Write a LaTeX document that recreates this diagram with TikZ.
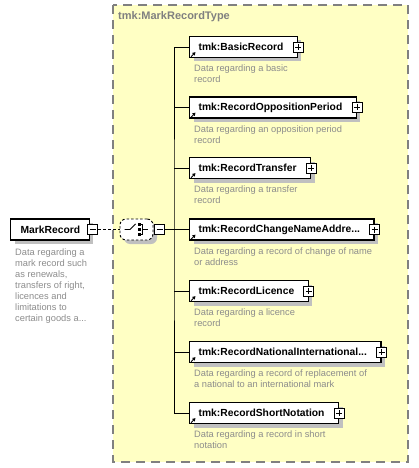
\documentclass[tikz,border=0pt]{standalone}
\usepackage{fontspec}
\setmainfont{Liberation Sans}
\usetikzlibrary{arrows.meta, positioning, shadows}
\definecolor{typefill}{HTML}{FFFFC4}
\definecolor{typeline}{HTML}{808080}
\definecolor{desctext}{HTML}{8C8C8C}
\definecolor{shadowgray}{HTML}{C0C0C0}
\tikzset{
    typebox/.style={
        draw=typeline,
        fill=typefill,
        line width=1.3pt,
        dash pattern=on 9pt off 6pt
    },
    typetitle/.style={
        text=typeline,
        font=\fontsize{11}{12}\selectfont\bfseries,
        inner sep=0pt
    },
    element/.style={
        rectangle,
        draw=black,
        fill=white,
        line width=1.3pt,
        minimum height=21pt,
        inner xsep=0pt,
        inner ysep=0pt,
        font=\fontsize{10.3}{12}\selectfont\bfseries,
        drop shadow={shadow xshift=4pt, shadow yshift=-4pt, fill=shadowgray, opacity=1}
    },
    childelement/.style={
        element,
        execute at begin node=\hspace*{9pt},
        execute at end node=\hspace*{14pt}
    },
    topelement/.style={
        element,
        execute at begin node=\hspace*{10pt},
        execute at end node=\hspace*{9pt}
    },
    desc/.style={
        text=desctext,
        font=\fontsize{9.3}{11}\selectfont,
        align=left,
        inner sep=0pt
    },
    compositor/.style={
        rectangle,
        rounded corners=6pt,
        draw=black,
        fill=white,
        dash pattern=on 2.5pt off 2pt,
        line width=0.9pt,
        minimum width=33pt,
        minimum height=21pt,
        inner sep=0pt,
        drop shadow={shadow xshift=4pt, shadow yshift=-4pt, fill=shadowgray, opacity=1}
    },
    plusicon/.style={
        rectangle,
        draw=black,
        fill=white,
        line width=0.8pt,
        minimum size=10pt,
        inner sep=0pt,
        path picture={
            \draw[line width=0.8pt] ([xshift=2pt]path picture bounding box.west) -- ([xshift=-2pt]path picture bounding box.east);
            \draw[line width=0.8pt] ([yshift=-2pt]path picture bounding box.north) -- ([yshift=2pt]path picture bounding box.south);
        }
    },
    minusicon/.style={
        rectangle,
        draw=black,
        fill=white,
        line width=0.8pt,
        minimum size=10pt,
        inner sep=0pt,
        path picture={
            \draw[line width=0.8pt] ([xshift=2pt]path picture bounding box.west) -- ([xshift=-2pt]path picture bounding box.east);
        }
    },
    link/.style={
        line width=0.9pt
    },
    optional/.style={
        line width=0.9pt,
        dash pattern=on 3pt off 2pt
    },
    refarrow/.style={
        line width=0.9pt,
        -{Triangle[length=3pt,width=3.5pt]}
    }
}

\begin{document}
\begin{tikzpicture}[x=1pt, y=-1pt]
\useasboundingbox (0,0) rectangle (419,468);

% complex type frame
\draw[typebox] (113,5) rectangle (408,462);
\node (typename) [typetitle, anchor=west] at (118,17) {tmk:MarkRecordType};

% root element
\node (mark) [topelement, anchor=west] at (10,229.5) {MarkRecord};
\node (markminus) [minusicon] at ([xshift=3pt]mark.east) {};
\node (markdesc) [desc, below right=8pt and 5pt of mark.south west] {Data regarding a\\mark record such\\as renewals,\\transfers of right,\\licences and\\limitations to\\certain goods a...};

% sequence
\node (seq) [compositor] at (136.5,229.5) {};
\node (seqminus) [minusicon] at (159.5,229.5) {};
\draw[link] ([shift={(-12,0)}]seq.center) -- ([shift={(-6.5,0)}]seq.center) -- ([shift={(-1,-5.5)}]seq.center);
\fill ([shift={(1.8,-6.3)}]seq.center) rectangle ([shift={(4.3,-3.8)}]seq.center);
\fill ([shift={(1.8,-1.25)}]seq.center) rectangle ([shift={(4.3,1.25)}]seq.center);
\fill ([shift={(1.8,3.8)}]seq.center) rectangle ([shift={(4.3,6.3)}]seq.center);
\draw[line width=0.7pt] ([shift={(4.3,-5)}]seq.center) -- ([shift={(6,-5)}]seq.center) -- ([shift={(6,5)}]seq.center) -- ([shift={(4.3,5)}]seq.center);
\draw[line width=0.7pt] ([shift={(6,0)}]seq.center) -- ([shift={(11,0)}]seq.center);

% children
\node (basic) [childelement, anchor=west] at (189,47) {tmk:BasicRecord};
\node (opposition) [childelement, anchor=west] at (189,107.5) {tmk:RecordOppositionPeriod};
\node (transfer) [childelement, anchor=west] at (189,168) {tmk:RecordTransfer};
\node (changename) [childelement, anchor=west] at (189,229.5) {tmk:RecordChangeNameAddre...};
\node (licence) [childelement, anchor=west] at (189,291) {tmk:RecordLicence};
\node (national) [childelement, anchor=west] at (189,352) {tmk:RecordNationalInternational...};
\node (short) [childelement, anchor=west] at (189,413) {tmk:RecordShortNotation};

\node (basicdesc) [desc, below right=6.5pt and 5pt of basic.south west] {Data regarding a basic\\record};
\node (oppositiondesc) [desc, below right=6.5pt and 5pt of opposition.south west] {Data regarding an opposition period\\record};
\node (transferdesc) [desc, below right=6.5pt and 5pt of transfer.south west] {Data regarding a transfer\\record};
\node (changenamedesc) [desc, below right=6.5pt and 5pt of changename.south west] {Data regarding a record of change of name\\or address};
\node (licencedesc) [desc, below right=6.5pt and 5pt of licence.south west] {Data regarding a licence\\record};
\node (nationaldesc) [desc, below right=6.5pt and 5pt of national.south west] {Data regarding a record of replacement of\\a national to an international mark};
\node (shortdesc) [desc, below right=6.5pt and 5pt of short.south west] {Data regarding a record in short\\notation};

\foreach \n in {basic,opposition,transfer,changename,licence,national,short} {
    \node (\n-plus) [plusicon] at (\n.east) {};
    \draw[refarrow] ([shift={(2,-1.5)}]\n.south west) -- ++(4.5,-4.5);
}

% connectors
\coordinate (bus) at (174,229.5);
\draw[optional] (markminus.east) -- (seq.west);
\draw[link] (seqminus.east) -- (changename.west);
\draw[link] (basic.west) -| (bus) |- (short.west);
\foreach \n in {opposition,transfer,licence,national} {
    \draw[link] (\n.west) -- (\n.west -| bus);
}

\end{tikzpicture}
\end{document}
